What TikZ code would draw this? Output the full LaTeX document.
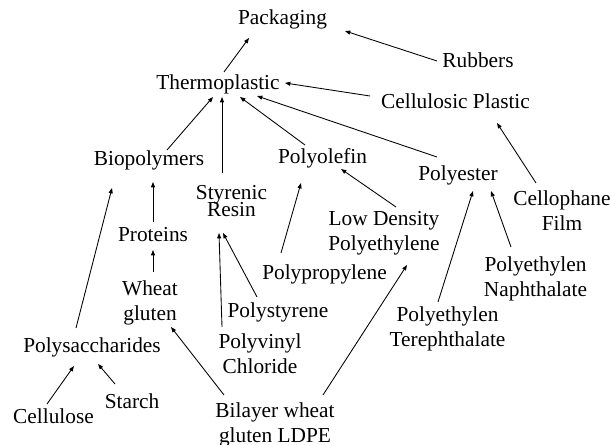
\documentclass[tikz,border=0pt]{standalone}
\usepackage{fontspec}
\setmainfont{Liberation Serif}
\usetikzlibrary{arrows.meta}
\begin{document}
\begin{tikzpicture}[x=0.75pt,y=-0.75pt,
  lbl/.style={anchor=base,inner sep=0pt,align=center,font=\fontsize{16}{18.75}\selectfont},
  arr/.style={-{Triangle[length=4pt,width=3pt]},line width=0.65pt}]
\useasboundingbox (0,0) rectangle (611,445);
% single-line labels: position = baseline; two-line labels: position = baseline of last line
\node[lbl] (pk) at (282.5,25) {Packaging};
\node[lbl] (rb) at (478,68) {Rubbers};
\node[lbl] (tp) at (218,90) {Thermoplastic};
\node[lbl] (cp) at (455.5,109) {Cellulosic Plastic};
\node[lbl] (bio) at (149,166) {Biopolymers};
\node[lbl] (po) at (322.5,164) {Polyolefin};
\node[lbl] (pe) at (458,181) {Polyester};
\node[lbl] (sr) at (231.5,217) {Styrenic\\[-5.5pt]Resin};
\node[lbl] (cf) at (562,231) {Cellophane\\Film};
\node[lbl] (ld) at (384,251) {Low Density\\Polyethylene};
\node[lbl] (pp) at (324.5,280) {Polypropylene};
\node[lbl] (pr) at (153,242) {Proteins};
\node[lbl] (wg) at (150,321) {Wheat\\gluten};
\node[lbl] (pst) at (278,318) {Polystyrene};
\node[lbl] (pvc) at (260,374) {Polyvinyl\\Chloride};
\node[lbl] (ps) at (92,353) {Polysaccharides};
\node[lbl] (st) at (132,409) {Starch};
\node[lbl] (ce) at (53.5,424) {Cellulose};
\node[lbl] (bl) at (275,442) {Bilayer wheat\\gluten LDPE};
\node[lbl] (pet) at (447.5,347) {Polyethylen\\Terephthalate};
\node[lbl] (pen) at (535.5,297) {Polyethylen\\Naphthalate};
\draw[arr] ([shift={(6,-18)}]tp.base) -- ([shift={(-33.5,13)}]pk.base);
\draw[arr] ([shift={(-41,-7)}]rb.base) -- ([shift={(62.5,6)}]pk.base);
\draw[arr] ([shift={(-85.5,-13)}]cp.base) -- ([shift={(67,-7)}]tp.base);
\draw[arr] ([shift={(18,-16)}]bio.base) -- ([shift={(-5,7)}]tp.base);
\draw[arr] ([shift={(-9.5,-44)}]sr.base) -- ([shift={(4,7)}]tp.base);
\draw[arr] ([shift={(-17.5,-19)}]po.base) -- ([shift={(22,7)}]tp.base);
\draw[arr] ([shift={(-21,-24)}]pe.base) -- ([shift={(39,6)}]tp.base);
\draw[arr] ([shift={(-26,-48)}]cf.base) -- ([shift={(41.5,14)}]cp.base);
\draw[arr] ([shift={(12,-44)}]ld.base) -- ([shift={(18.5,5)}]po.base);
\draw[arr] ([shift={(-43.5,-27)}]pp.base) -- ([shift={(-21.5,19)}]po.base);
\draw[arr] ([shift={(-9.5,-45)}]pet.base) -- ([shift={(15,10)}]pe.base);
\draw[arr] ([shift={(-24.5,-50)}]pen.base) -- ([shift={(33,10)}]pe.base);
\draw[arr] ([shift={(-16,-25)}]ps.base) -- ([shift={(-37,22)}]bio.base);
\draw[arr] ([shift={(0,-20)}]pr.base) -- ([shift={(4,16)}]bio.base);
\draw[arr] ([shift={(3,-49)}]wg.base) -- ([shift={(0,8)}]pr.base);
\draw[arr] ([shift={(-21,-21)}]pst.base) -- ([shift={(-8.5,16)}]sr.base);
\draw[arr] ([shift={(-38,-47)}]pvc.base) -- ([shift={(-12.5,16)}]sr.base);
\draw[arr] ([shift={(-51,-47)}]bl.base) -- ([shift={(21,6)}]wg.base);
\draw[arr] ([shift={(48,-47)}]bl.base) -- ([shift={(23,14)}]ld.base);
\draw[arr] ([shift={(-6.5,-20)}]ce.base) -- ([shift={(-18,13)}]ps.base);
\draw[arr] ([shift={(-17,-25)}]st.base) -- ([shift={(6,11)}]ps.base);
\end{tikzpicture}
\end{document}
